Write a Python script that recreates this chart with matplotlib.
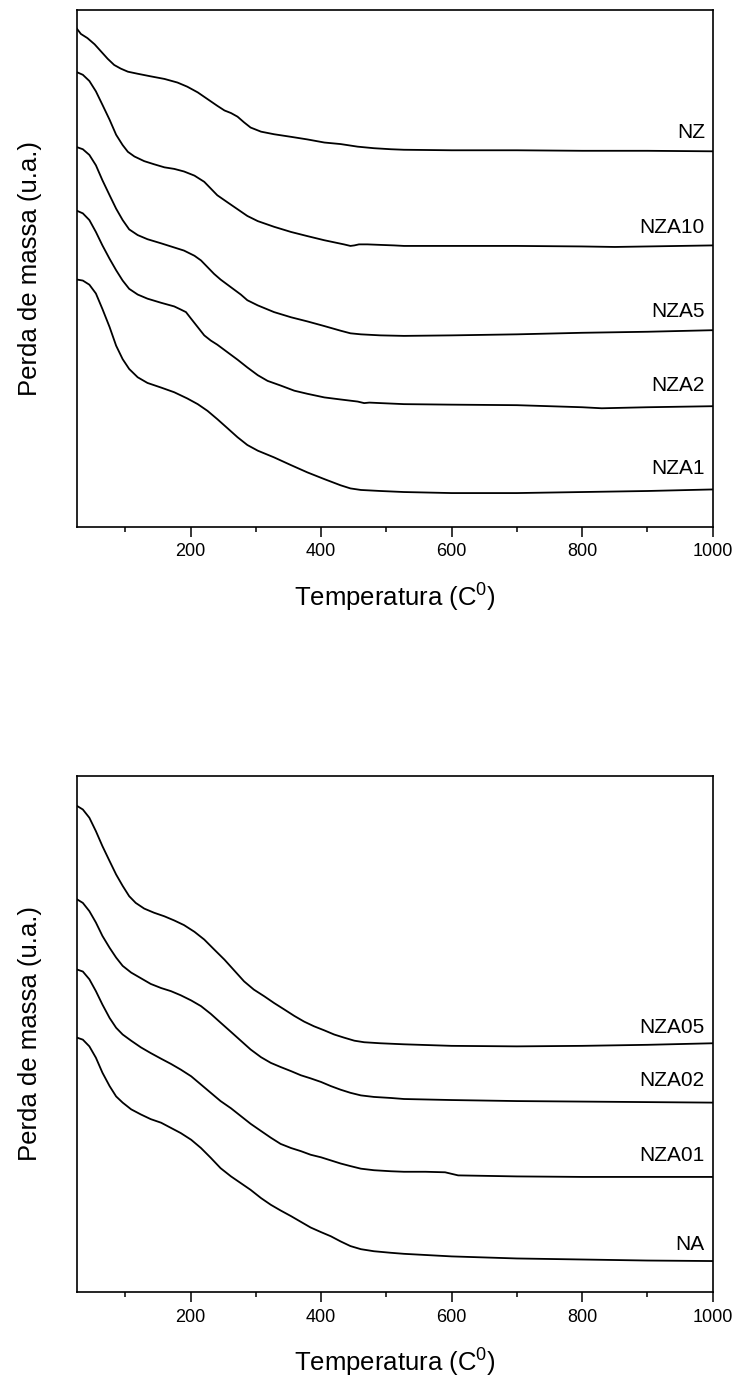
import matplotlib
matplotlib.use('Agg')
import matplotlib.pyplot as plt
from matplotlib.ticker import MultipleLocator

plt.rcParams['font.family'] = ['Liberation Sans', 'DejaVu Sans']
plt.rcParams['mathtext.fontset'] = 'custom'
plt.rcParams['mathtext.rm'] = 'Liberation Sans'

# Temperature grids (C) and relative mass curves (arbitrary units, stacked)
t_nz = [26, 32, 42, 53, 63, 73, 83, 93, 104, 119, 139, 160, 180, 195, 211, 226, 241,
        252, 262, 272, 282, 292, 308, 328, 354, 379, 405, 430, 456, 481, 507, 527,
        600, 700, 800, 900, 1000]
nz = [96.3, 95.3, 94.5, 93.3, 91.9, 90.5, 89.3, 88.6, 88.0, 87.6, 87.1, 86.6, 85.9,
      85.1, 84.0, 82.7, 81.4, 80.5, 80.0, 79.3, 78.2, 77.2, 76.4, 75.9, 75.4, 74.9,
      74.3, 74.0, 73.5, 73.2, 73.0, 72.9, 72.8, 72.8, 72.7, 72.7, 72.6]

t_nza10 = [26, 35, 45, 55, 65, 76, 86, 96, 104, 114, 129, 144, 160, 175, 190, 206,
           221, 231, 241, 257, 272, 287, 303, 328, 354, 379, 405, 420, 435, 445, 451,
           458, 471, 491, 512, 527, 600, 700, 800, 850, 900, 1000]
nza10 = [87.9, 87.4, 86.2, 84.2, 81.6, 78.7, 75.8, 73.8, 72.5, 71.6, 70.7, 70.1, 69.5,
         69.2, 68.7, 67.9, 66.7, 65.4, 64.1, 62.7, 61.4, 60.1, 59.1, 58.0, 57.0, 56.2,
         55.4, 55.0, 54.6, 54.3, 54.4, 54.6, 54.6, 54.5, 54.4, 54.3, 54.3, 54.3, 54.2,
         54.1, 54.2, 54.4]

t_nza5 = [26, 35, 45, 55, 65, 76, 86, 96, 106, 119, 134, 155, 175, 190, 206, 216, 226,
          236, 246, 262, 277, 287, 303, 328, 354, 379, 405, 430, 445, 461, 491, 527,
          600, 700, 800, 900, 1000]
nza5 = [73.4, 73.0, 71.9, 69.9, 67.0, 64.1, 61.5, 59.3, 57.5, 56.4, 55.6, 54.8, 54.0,
        53.4, 52.4, 51.5, 50.2, 48.9, 47.8, 46.3, 44.9, 43.8, 42.8, 41.5, 40.5, 39.7,
        38.8, 37.9, 37.4, 37.2, 37.0, 36.9, 37.0, 37.2, 37.5, 37.7, 38.0]

t_nza2 = [26, 35, 45, 55, 65, 76, 86, 96, 106, 119, 134, 155, 175, 185, 193, 201, 211,
          221, 231, 241, 257, 272, 287, 303, 318, 338, 359, 379, 405, 430, 456, 466,
          474, 491, 527, 600, 700, 800, 830, 900, 1000]
nza2 = [61.1, 60.6, 59.3, 57.0, 54.4, 51.8, 49.6, 47.6, 46.0, 44.9, 44.1, 43.3, 42.6,
        42.0, 41.5, 40.2, 38.6, 37.0, 36.0, 35.2, 33.7, 32.3, 30.8, 29.3, 28.2, 27.3,
        26.3, 25.7, 25.0, 24.6, 24.2, 23.9, 24.0, 23.9, 23.7, 23.6, 23.5, 23.1, 22.9,
        23.1, 23.3]

t_nza1 = [26, 35, 45, 55, 65, 76, 86, 96, 106, 119, 134, 155, 175, 195, 211, 226, 241,
          257, 272, 287, 303, 328, 354, 379, 405, 430, 445, 461, 491, 527, 600, 700,
          800, 900, 1000]
nza1 = [47.8, 47.6, 46.8, 45.1, 42.1, 38.6, 35.0, 32.4, 30.5, 28.9, 27.8, 26.9, 26.0,
        24.8, 23.7, 22.4, 20.8, 19.0, 17.3, 15.8, 14.7, 13.4, 11.9, 10.5, 9.2, 8.0,
        7.4, 7.1, 6.9, 6.7, 6.5, 6.5, 6.7, 6.9, 7.2]

t_low = [26, 35, 45, 55, 65, 76, 86, 96, 109, 124, 139, 155, 170, 185, 201, 216, 231,
         246, 262, 277, 292, 308, 323, 338, 354, 369, 384, 400, 415, 430, 445, 461,
         481, 507, 527]

t_nza05 = [26, 35, 45, 55, 65, 76, 86, 96, 106, 116, 129, 144, 160, 175, 190, 206,
           221, 236, 252, 267, 282, 297, 313, 328, 343, 359, 374, 389, 405, 420, 435,
           451, 466, 491, 527, 600, 700, 800, 900, 1000]
nza05 = [94.2, 93.5, 91.9, 89.3, 86.4, 83.5, 80.9, 78.7, 76.7, 75.4, 74.3, 73.5, 72.8,
         72.0, 71.1, 69.8, 68.3, 66.4, 64.4, 62.3, 60.2, 58.6, 57.3, 56.0, 54.8, 53.5,
         52.4, 51.5, 50.7, 49.9, 49.3, 48.7, 48.4, 48.2, 48.0, 47.7, 47.6, 47.7, 47.9,
         48.2]

nza02 = [76.1, 75.4, 73.8, 71.6, 69.0, 66.7, 64.8, 63.2, 61.9, 60.8, 59.7, 58.9, 58.3,
         57.5, 56.5, 55.4, 53.9, 52.2, 50.4, 48.7, 47.0, 45.5, 44.4, 43.6, 42.8, 42.0,
         41.4, 40.7, 39.9, 39.2, 38.6, 38.1, 37.8, 37.6, 37.4]
nza02_tail_t = [600, 700, 800, 900, 1000]
nza02_tail = [37.2, 37.0, 36.9, 36.8, 36.7]

nza01 = [62.5, 62.1, 60.6, 58.3, 55.7, 53.1, 51.2, 49.9, 48.7, 47.4, 46.3, 45.2, 44.2,
         43.1, 41.8, 40.2, 38.6, 37.0, 35.6, 34.1, 32.6, 31.2, 29.9, 28.7, 27.9, 27.3,
         26.6, 26.1, 25.5, 24.9, 24.4, 23.9, 23.6, 23.4, 23.3]
nza01_tail_t = [560, 590, 610, 700, 800, 900, 1000]
nza01_tail = [23.3, 23.2, 22.6, 22.4, 22.3, 22.3, 22.3]

na = [49.3, 48.9, 47.6, 45.4, 42.5, 39.9, 37.9, 36.7, 35.4, 34.4, 33.5, 32.8, 31.8,
      30.8, 29.5, 27.9, 26.0, 24.0, 22.4, 21.1, 19.8, 18.2, 16.9, 15.8, 14.7, 13.6,
      12.5, 11.6, 10.8, 9.8, 8.9, 8.3, 7.9, 7.6, 7.4]
na_tail_t = [600, 700, 800, 900, 1000]
na_tail = [6.9, 6.5, 6.3, 6.1, 6.0]

top_series = [(t_nz, nz, 'NZ', 76.3), (t_nza10, nza10, 'NZA10', 57.9),
              (t_nza5, nza5, 'NZA5', 41.6), (t_nza2, nza2, 'NZA2', 27.3),
              (t_nza1, nza1, 'NZA1', 11.3)]
bottom_series = [(t_nza05, nza05, 'NZA05', 51.3),
                 (t_low + nza02_tail_t, nza02 + nza02_tail, 'NZA02', 41.0),
                 (t_low + nza01_tail_t, nza01 + nza01_tail, 'NZA01', 26.4),
                 (t_low + na_tail_t, na + na_tail, 'NA', 9.2)]

fig = plt.figure(figsize=(7.38, 13.78), dpi=100)
ax1 = fig.add_axes([0.1043, 0.6178, 0.8614, 0.3752])
ax2 = fig.add_axes([0.1043, 0.0624, 0.8614, 0.3745])

for ax, series in [(ax1, top_series), (ax2, bottom_series)]:
    for t, m, name, ylab in series:
        ax.plot(t, m, color='black', lw=1.3, solid_joinstyle='round')
        ax.text(988, ylab, name, ha='right', va='center', fontsize=15)
    ax.set_xlim(26, 1000)
    ax.set_ylim(0, 100)
    ax.xaxis.set_major_locator(MultipleLocator(200))
    ax.xaxis.set_minor_locator(MultipleLocator(100))
    ax.tick_params(axis='x', which='major', direction='out', length=7, width=1.1,
                   labelsize=13, pad=5, top=False)
    ax.tick_params(axis='x', which='minor', direction='out', length=3.5, width=1.1,
                   top=False)
    ax.set_yticks([])
    for s in ax.spines.values():
        s.set_linewidth(1.2)
    ax.set_xlabel(r'Temperatura (C$^{0}$)', fontsize=18.5, labelpad=14)
    ax.set_ylabel('Perda de massa (u.a.)', fontsize=18.5, labelpad=25)

fig.savefig('out.png', dpi=100)
